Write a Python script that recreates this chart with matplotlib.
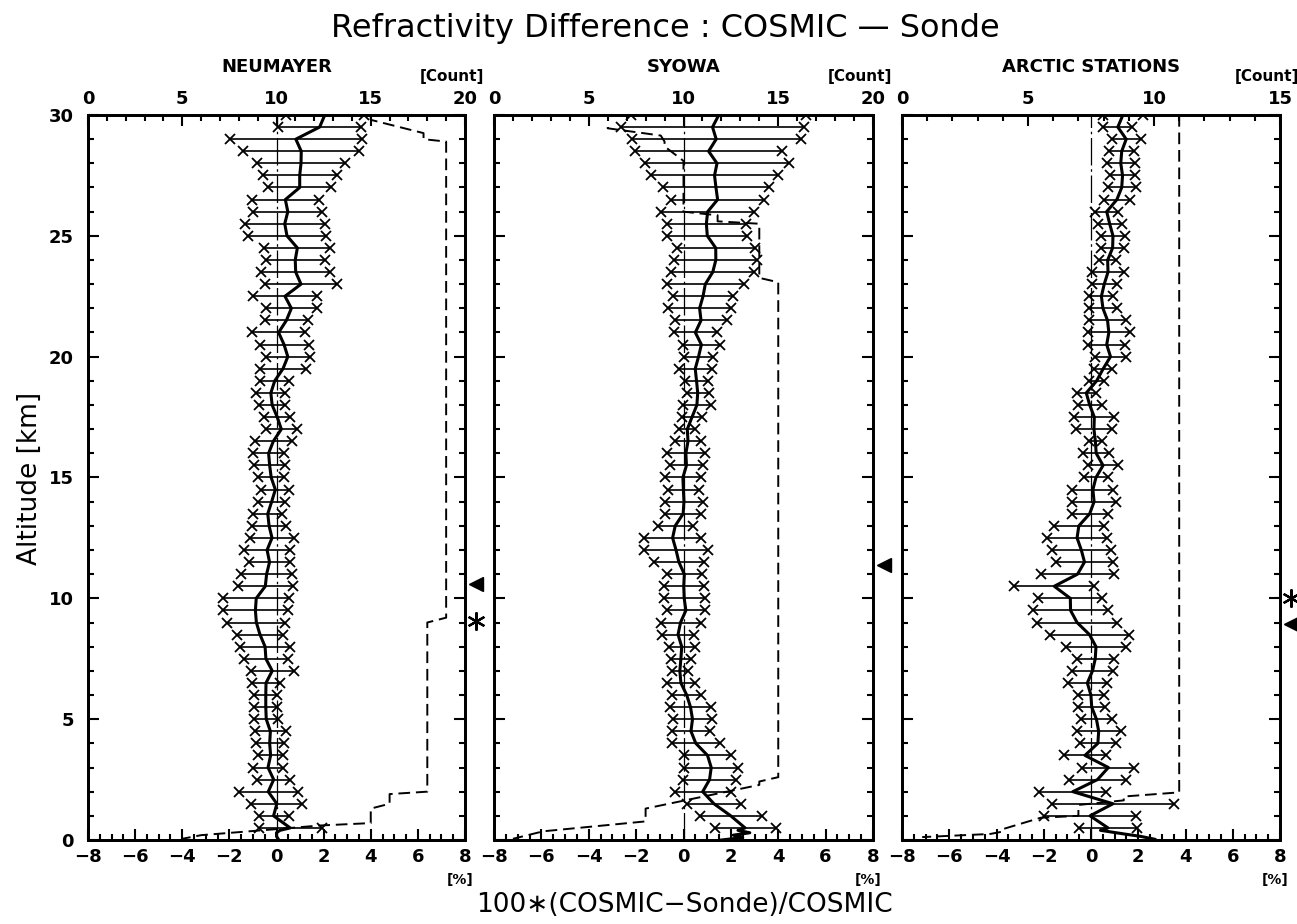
import numpy as np
import matplotlib
matplotlib.use("Agg")
import matplotlib.pyplot as plt
from matplotlib.ticker import MultipleLocator

plt.rcParams['font.family'] = ['DejaVu Sans']

# ---------------- data ----------------
stations = ["NEUMAYER", "SYOWA", "ARCTIC STATIONS"]
count_max = [20, 20, 15]

# altitude levels of the error bars [km], 30.0 ... 0.5
alt = np.arange(30.0, 0.49, -0.5)

# mean - sd  /  mean + sd  [%]
neu_lo = [0.40, 0.08, -1.98, -1.41, -0.83, -0.59, -0.35, -1.06, -0.99, -1.34,
          -1.23, -0.51, -0.45, -0.65, -0.48, -0.99, -0.45, -0.48, -1.02, -0.72,
          -0.45, -0.72, -0.69, -0.85, -0.74, -0.51, -0.45, -0.92, -1.00, -0.95,
          -0.78, -0.64, -0.78, -0.99, -1.03, -1.13, -1.39, -1.16, -1.49, -1.64,
          -2.26, -2.26, -2.08, -1.68, -1.54, -1.37, -1.10, -1.05, -0.95, -0.95,
          -0.95, -0.92, -0.88, -0.78, -1.00, -0.83, -1.61, -1.07, -0.76, -0.76]
neu_hi = [3.70, 3.58, 3.62, 3.51, 2.91, 2.56, 2.32, 1.81, 1.95, 2.04,
          2.12, 2.28, 2.04, 2.28, 2.56, 1.71, 1.71, 1.32, 1.20, 1.36,
          1.41, 1.27, 0.54, 0.37, 0.37, 0.57, 0.86, 0.65, 0.33, 0.37,
          0.33, 0.54, 0.37, 0.25, 0.40, 0.75, 0.59, 0.57, 0.65, 0.69,
          0.54, 0.47, 0.37, 0.28, 0.57, 0.47, 0.74, 0.16, 0.04, 0.04,
          0.08, 0.40, 0.30, 0.28, 0.28, 0.59, 0.91, 1.10, 0.51, 1.92]

syo_lo = [-2.21, -2.64, -2.19, -2.05, -1.61, -1.37, -0.86, -0.52, -0.94, -0.69,
          -0.68, -0.28, -0.39, -0.51, -0.71, -0.45, -0.66, -0.34, -0.42, -0.03,
          0.01, -0.21, 0.06, 0.14, -0.03, -0.08, -0.17, -0.35, -0.69, -0.58,
          -0.79, -0.66, -0.78, -0.78, -1.09, -1.65, -1.65, -1.26, -0.69, -0.83,
          -0.83, -0.69, -0.97, -0.90, -0.63, -0.52, -0.49, -0.69, -0.48, -0.55,
          -0.45, -0.48, -0.48, 0.01, 0.04, -0.03, -0.37, 0.16, 0.68, 1.31]
syo_hi = [5.19, 5.09, 4.95, 4.17, 4.44, 3.99, 3.60, 3.40, 2.98, 2.62,
          2.69, 3.00, 3.12, 2.98, 2.55, 2.10, 2.02, 1.82, 1.42, 1.54,
          1.26, 1.20, 1.04, 1.06, 1.16, 0.80, 0.49, 0.73, 0.89, 0.83,
          0.74, 0.65, 0.82, 0.75, 0.39, 0.73, 1.02, 0.87, 0.76, 0.85,
          0.89, 0.89, 0.72, 0.44, 0.48, 0.30, 0.18, 0.47, 0.75, 1.14,
          1.21, 1.11, 1.52, 2.02, 2.30, 2.23, 1.99, 2.41, 3.31, 3.89]

arc_lo = [0.52, 0.52, 0.88, 0.78, 0.66, 0.81, 0.71, 0.55, 0.17, 0.28,
          0.42, 0.42, 0.35, 0.03, 0.03, -0.07, -0.08, -0.08, -0.14, -0.11,
          0.17, 0.13, -0.08, -0.61, -0.56, -0.71, -0.65, -0.08, -0.32, -0.14,
          -0.28, -0.79, -0.79, -0.82, -1.58, -1.86, -1.67, -1.50, -2.13, -3.25,
          -2.23, -2.46, -2.30, -1.74, -1.06, -0.61, -0.79, -0.99, -0.56, -0.55,
          -0.42, -0.61, -0.48, -1.13, -0.37, -0.93, -2.18, -1.67, -1.99, -0.49]
arc_hi = [2.18, 1.75, 2.10, 1.82, 1.86, 1.86, 1.89, 1.64, 1.16, 1.30,
          1.44, 1.41, 1.06, 1.41, 1.09, 0.95, 1.09, 1.48, 1.65, 1.44,
          1.48, 0.90, 0.56, 0.21, 0.45, 0.99, 0.90, 0.45, 0.76, 1.16,
          0.70, 0.95, 1.05, 0.71, 0.55, 0.68, 0.85, 0.95, 0.99, 0.14,
          0.48, 0.73, 1.12, 1.61, 1.48, 0.97, 0.92, 0.68, 0.55, 0.61,
          0.88, 1.26, 1.06, 0.62, 1.84, 1.48, 0.64, 3.53, 1.91, 1.93]

# mean profile below the lowest error bar
neu_sfc_alt = [0.40, 0.30, 0.15, 0.00]
neu_sfc_mean = [0.15, 0.00, 0.00, 0.10]
syo_sfc_alt = [0.40, 0.30, 0.20, 0.10, 0.00]
syo_sfc_mean = [2.30, 2.80, 2.10, 2.50, 1.60]
arc_sfc_alt = [0.40, 0.25, 0.15, 0.03]
arc_sfc_mean = [0.40, 1.40, 2.10, 2.70]

# number of profiles (top axis)
neu_cnt_alt = [30.0, 29.8, 29.25, 29.0, 28.9, 9.2, 9.0, 2.0, 1.9, 1.5, 1.3, 0.7, 0.6, 0.45, 0.2, 0.05]
neu_cnt = [15, 15, 17.8, 17.8, 19, 19, 18, 18, 16, 16, 15, 15, 12.3, 10, 6, 5]
syo_cnt_alt = [29.5, 29.45, 29.15, 28.9, 28.7, 28.4, 28.1, 26.0, 25.85, 25.6, 25.5,
               23.26, 23.08, 2.6, 2.42, 2.28, 1.3, 0.77, 0.36, 0.05]
syo_cnt = [6, 6, 8.8, 9, 9, 9.5, 10, 10, 11.8, 11.8, 14, 14, 15, 15, 14, 14, 8, 8, 2.6, 1.0]
arc_cnt_alt = [30.0, 1.97, 1.8, 1.64, 1.45, 1.0, 0.92, 0.45, 0.35, 0.25, 0.12]
arc_cnt = [11, 11, 8.8, 8.8, 7.0, 7.0, 5.5, 4.0, 4.0, 3.5, 0.8]

# tropopause markers (altitude, km)
tri_alt = [10.6, 11.4, 8.95]
star_alt = [9.07, None, 10.02]

lows = [neu_lo, syo_lo, arc_lo]
highs = [neu_hi, syo_hi, arc_hi]
sfc_alts = [neu_sfc_alt, syo_sfc_alt, arc_sfc_alt]
sfc_means = [neu_sfc_mean, syo_sfc_mean, arc_sfc_mean]
cnt_alts = [neu_cnt_alt, syo_cnt_alt, arc_cnt_alt]
cnts = [neu_cnt, syo_cnt, arc_cnt]

# ---------------- figure ----------------
W, H = 1297, 924
fig = plt.figure(figsize=(W / 100, H / 100), dpi=100)

panels = [(88, 465), (494, 873), (902, 1280)]
top_px, bot_px = 115, 840

for i, (x0, x1) in enumerate(panels):
    ax = fig.add_axes([x0 / W, 1 - bot_px / H, (x1 - x0) / W, (bot_px - top_px) / H])
    ax.set_xlim(-8, 8)
    ax.set_ylim(0, 30)

    lo = np.array(lows[i])
    hi = np.array(highs[i])
    mean = (lo + hi) / 2

    # zero reference line
    ax.plot([0, 0], [0, 30], color='black', lw=0.9, dashes=(22, 3, 2, 3), zorder=1)

    # error bars
    ax.hlines(alt, lo, hi, color='black', lw=1.2, zorder=2)
    ax.plot(lo, alt, ls='none', marker='x', ms=7, mew=1.3, color='black', zorder=3)
    ax.plot(hi, alt, ls='none', marker='x', ms=7, mew=1.3, color='black', zorder=3)

    # mean profile
    line_alt = np.concatenate([alt, sfc_alts[i]])
    line_val = np.concatenate([mean, sfc_means[i]])
    ax.plot(line_val, line_alt, color='black', lw=2.2, zorder=4)

    # tropopause markers
    ax.plot([8.45], [tri_alt[i]], marker='<', ms=10, color='black', clip_on=False, zorder=5)
    if star_alt[i] is not None:
        ax.plot([8.45], [star_alt[i]], marker=(6, 2, 0), ms=13, mew=1.6,
                color='black', clip_on=False, zorder=5)

    ax.xaxis.set_major_locator(MultipleLocator(2))
    ax.xaxis.set_minor_locator(MultipleLocator(0.5))
    ax.yaxis.set_major_locator(MultipleLocator(5))
    ax.yaxis.set_minor_locator(MultipleLocator(1))
    ax.tick_params(which='both', direction='in', left=True, right=True, bottom=True,
                   top=False, width=1.5)
    ax.tick_params(axis='x', pad=6)
    ax.tick_params(axis='y', pad=10)
    ax.tick_params(which='major', length=8)
    ax.tick_params(which='minor', length=4.5)
    ax.tick_params(axis='y', labelleft=(i == 0))
    for lab in ax.get_xticklabels() + ax.get_yticklabels():
        lab.set_fontsize(13)
        lab.set_fontweight('bold')
    for sp in ax.spines.values():
        sp.set_linewidth(2.0)

    # count axis on top
    ax2 = ax.twiny()
    ax2.set_xlim(0, count_max[i])
    ax2.plot(cnts[i], cnt_alts[i], color='black', lw=1.4, dashes=(6, 3), zorder=2)
    ax2.xaxis.set_major_locator(MultipleLocator(5))
    ax2.xaxis.set_minor_locator(MultipleLocator(1))
    ax2.tick_params(which='both', direction='in', top=True, width=1.5, pad=5)
    ax2.tick_params(which='major', length=8)
    ax2.tick_params(which='minor', length=4.5)
    for lab in ax2.get_xticklabels():
        lab.set_fontsize(13)
        lab.set_fontweight('bold')
    for sp in ax2.spines.values():
        sp.set_linewidth(2.0)

    cx = (x0 + x1) / 2
    fig.text(cx / W, 1 - 67 / H, stations[i], ha='center', va='center',
             fontsize=13, fontweight='bold')
    fig.text((x1 - 13) / W, 1 - 76 / H, "[Count]", ha='center', va='center',
             fontsize=11, fontweight='bold')
    fig.text((x1 - 5) / W, 1 - 880 / H, "[%]", ha='center', va='center',
             fontsize=10, fontweight='bold')

fig.text(665 / W, 1 - 28 / H, "Refractivity Difference : COSMIC \u2014 Sonde",
         ha='center', va='center', fontsize=23)
fig.text(30 / W, 1 - 478 / H, "Altitude [km]", rotation=90, ha='center', va='center',
         fontsize=19)
fig.text(684 / W, 1 - 905 / H, "100\u2217(COSMIC\u2212Sonde)/COSMIC", ha='center',
         va='center', fontsize=19)

fig.savefig("out.png", dpi=100)
